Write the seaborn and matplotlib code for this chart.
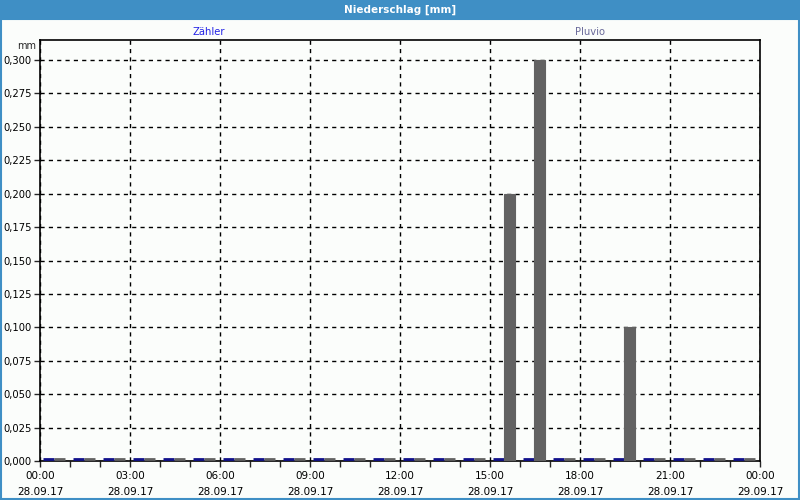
import numpy as np
import pandas as pd
import matplotlib
matplotlib.use("Agg")
import matplotlib.pyplot as plt
import seaborn as sns
from matplotlib.patches import Rectangle
from matplotlib.ticker import FixedLocator, FuncFormatter

# ---- data ----
hours = list(range(24))
zaehler = [0.0] * 24
pluvio = [0, 0, 0, 0, 0, 0, 0, 0, 0, 0, 0, 0, 0, 0, 0, 0.2, 0.3, 0, 0, 0.1, 0, 0, 0, 0]
series_names = ["Zähler", "Pluvio"]
x_tick_times = ["00:00", "03:00", "06:00", "09:00", "12:00", "15:00", "18:00", "21:00", "00:00"]
x_tick_dates = ["28.09.17"] * 8 + ["29.09.17"]
y_ticks = [0.0, 0.025, 0.05, 0.075, 0.1, 0.125, 0.15, 0.175, 0.2, 0.225, 0.25, 0.275, 0.3]

df = pd.DataFrame({
    "pos": [h + 0.47 for h in hours] * 2,
    "value": zaehler + pluvio,
    "series": [series_names[0]] * 24 + [series_names[1]] * 24,
})

sns.set_style("white")
plt.rcParams["font.family"] = ["DejaVu Sans"]

fig = plt.figure(figsize=(8, 5), dpi=100)
fig.patch.set_facecolor("#fbfdfb")
ax = fig.add_axes([0.05, 0.078, 0.90, 0.842])
ax.set_facecolor("#fbfdfb")

palette = {"Zähler": "#10108a", "Pluvio": "#626262"}
sns.barplot(data=df, x="pos", y="value", hue="series", native_scale=True,
            palette=palette, width=0.75, ax=ax, legend=False, errorbar=None,
            saturation=1)
ylim_top = 0.3 * (421 / 401)
for p in ax.patches:
    fc = p.get_facecolor()
    p.set_edgecolor(fc)
    p.set_linewidth(0.8)
    p.set_zorder(3)
    if p.get_height() == 0:
        # draw zero-valued bars as thin strips resting on the axis line
        p.set_y(0.004 * 0.3 / 0.3 * 0.35)
        p.set_height(0.0)
        p.set_linewidth(2.0)

ax.set_xlim(0, 24)
ax.set_ylim(0, ylim_top)
ax.set_xlabel("")
ax.set_ylabel("")

ax.xaxis.set_major_locator(FixedLocator(list(range(0, 25, 3))))
ax.xaxis.set_minor_locator(FixedLocator(list(range(0, 25))))
ax.set_xticklabels([f"{t}\n{d}" for t, d in zip(x_tick_times, x_tick_dates)],
                   fontsize=7.5, linespacing=1.75)
ax.yaxis.set_major_locator(FixedLocator(y_ticks))
ax.yaxis.set_major_formatter(FuncFormatter(lambda v, _: f"{v:.3f}".replace(".", ",")))
ax.tick_params(axis="y", labelsize=7.2, length=4, width=1, direction="out", left=True, pad=2,
               labelcolor="black")
ax.tick_params(axis="x", which="major", length=4, width=1, direction="out", bottom=True, pad=3,
               labelcolor="black")
ax.tick_params(axis="x", which="minor", length=4, width=1, direction="out", bottom=True)

ax.grid(True, which="major", color="black", linestyle=(0, (3, 3)), linewidth=1)
ax.set_axisbelow(True)
for s in ax.spines.values():
    s.set_visible(True)
    s.set_color("black")
    s.set_linewidth(1.2)

# units label
fig.text(36 / 800, 1 - 46 / 500, "mm", ha="right", va="center", fontsize=7)

# series labels
fig.text(209 / 800, 1 - 32 / 500, series_names[0], ha="center", va="center",
         fontsize=7.2, color="#2323e6")
fig.text(590 / 800, 1 - 32 / 500, series_names[1], ha="center", va="center",
         fontsize=7.2, color="#6a6a9a")

# title bar
fig.patches.append(Rectangle((0, 1 - 20 / 500), 1, 20 / 500, transform=fig.transFigure,
                             facecolor="#3f8fc5", edgecolor="none", zorder=0))
fig.text(0.5, 1 - 10 / 500, "Niederschlag [mm]", ha="center", va="center",
         fontsize=7.5, fontweight="bold", color="white")
# panel border
fig.patches.append(Rectangle((0.6 / 800, 0.6 / 500), 1 - 1.8 / 800, 1 - 20 / 500,
                             transform=fig.transFigure, facecolor="none",
                             edgecolor="#3f8fc5", linewidth=1.5, zorder=0))

fig.savefig("out.png", dpi=100, facecolor=fig.get_facecolor())
